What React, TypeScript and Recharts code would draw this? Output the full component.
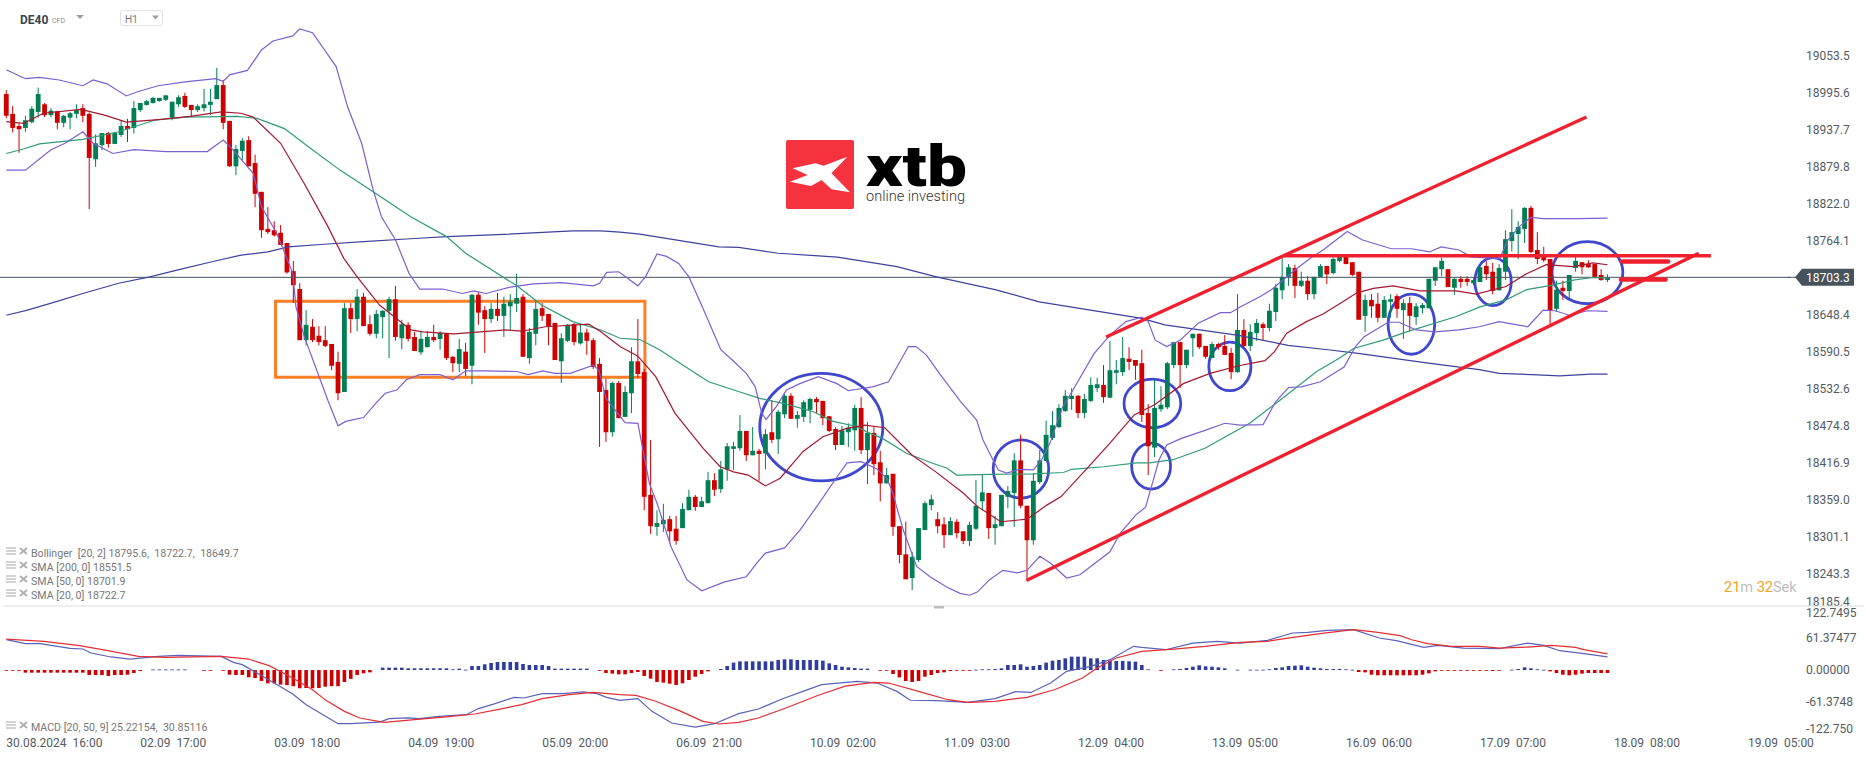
import {
  Bar,
  ComposedChart,
  Line,
  ReferenceArea,
  ReferenceLine,
  XAxis,
  YAxis,
} from "recharts";

const FONT = "Roboto, sans-serif";
const GREEN = "#007f54";
const RED = "#d10000";
const TEXT = "#555b61";

// hourly DE40 candles, one position per candle
const opens = [
  18990, 18959, 18940, 18937, 18946, 18962, 18974, 18957, 18963, 18945,
  18953, 18959, 18968, 18959, 18888, 18910, 18929, 18912, 18926, 18940,
  18937, 18965, 18973, 18976, 18979, 18981, 18953, 18974, 18987, 18973,
  18965, 18968, 18973, 18982, 19004, 18948, 18877, 18901, 18918, 18882,
  18837, 18779, 18777, 18773, 18757, 18713, 18685, 18605, 18626, 18612,
  18605, 18599, 18571, 18524, 18655, 18638, 18673, 18630, 18615, 18641,
  18651, 18669, 18608, 18629, 18610, 18586, 18594, 18610, 18607, 18615,
  18579, 18568, 18587, 18565, 18676, 18652, 18638, 18654, 18643, 18658,
  18662, 18673, 18577, 18615, 18655, 18646, 18632, 18572, 18604, 18630,
  18600, 18617, 18605, 18568, 18527, 18461, 18538, 18485, 18522, 18572,
  18555, 18363, 18313, 18317, 18325, 18310, 18311, 18339, 18360, 18344,
  18350, 18386, 18372, 18403, 18435, 18436, 18463, 18425, 18432, 18428,
  18461, 18450, 18489, 18518, 18482, 18485, 18496, 18513, 18510, 18486,
  18466, 18441, 18461, 18464, 18499, 18433, 18460, 18414, 18381, 18396,
  18314, 18270, 18233, 18261, 18308, 18347, 18325, 18317, 18300, 18321,
  18306, 18291, 18310, 18353, 18366, 18311, 18314, 18360, 18366, 18417,
  18346, 18292, 18383, 18416, 18452, 18469, 18494, 18513, 18518, 18491,
  18510, 18530, 18535, 18515, 18554, 18555, 18576, 18574, 18569, 18491,
  18437, 18497, 18500, 18566, 18602, 18566, 18608, 18615, 18596, 18577,
  18599, 18596, 18585, 18555, 18621, 18596, 18616, 18630, 18624, 18649,
  18683, 18704, 18718, 18690, 18698, 18677, 18704, 18721, 18710, 18729,
  18737, 18727, 18712, 18643, 18668, 18662, 18640, 18665, 18674, 18652,
  18663, 18641, 18655, 18655, 18698, 18716, 18716, 18687, 18701, 18701,
  18694, 18696, 18721, 18712, 18683, 18712, 18760, 18771, 18779, 18812,
  18746, 18737, 18732, 18654, 18687, 18682, 18718, 18727, 18724, 18724,
  18707, 18699,
];
const highs = [
  18996, 18971, 18944, 18956, 18971, 19000, 18976, 18968, 18964, 18957,
  18962, 18974, 18974, 18961, 18927, 18929, 18931, 18930, 18949, 18951,
  18979, 18976, 18981, 18985, 18984, 18988, 18978, 18988, 18992, 18973,
  18974, 18998, 18998, 19031, 19012, 18948, 18910, 18921, 18924, 18895,
  18837, 18813, 18791, 18785, 18757, 18729, 18694, 18652, 18638, 18627,
  18627, 18599, 18587, 18663, 18663, 18685, 18679, 18644, 18652, 18652,
  18673, 18690, 18637, 18633, 18618, 18618, 18619, 18629, 18619, 18616,
  18580, 18607, 18601, 18677, 18680, 18658, 18663, 18679, 18673, 18677,
  18709, 18677, 18624, 18668, 18663, 18646, 18632, 18616, 18630, 18632,
  18630, 18623, 18608, 18577, 18545, 18540, 18541, 18533, 18594, 18638,
  18560, 18449, 18339, 18349, 18330, 18330, 18350, 18371, 18363, 18360,
  18399, 18397, 18416, 18444, 18446, 18488, 18463, 18469, 18435, 18466,
  18511, 18496, 18521, 18522, 18494, 18511, 18515, 18516, 18510, 18486,
  18469, 18471, 18475, 18504, 18516, 18477, 18469, 18432, 18405, 18396,
  18314, 18321, 18274, 18311, 18353, 18363, 18336, 18328, 18328, 18325,
  18306, 18321, 18386, 18394, 18366, 18330, 18363, 18377, 18428, 18457,
  18346, 18397, 18433, 18479, 18494, 18505, 18527, 18530, 18519, 18521,
  18547, 18546, 18566, 18604, 18574, 18610, 18594, 18574, 18590, 18505,
  18543, 18533, 18571, 18602, 18602, 18590, 18615, 18615, 18596, 18602,
  18601, 18613, 18593, 18677, 18638, 18630, 18638, 18633, 18662, 18693,
  18737, 18724, 18723, 18712, 18705, 18704, 18724, 18721, 18734, 18737,
  18737, 18727, 18712, 18676, 18677, 18679, 18674, 18677, 18677, 18669,
  18673, 18663, 18663, 18701, 18719, 18734, 18716, 18702, 18705, 18705,
  18702, 18723, 18729, 18726, 18724, 18777, 18810, 18791, 18813, 18815,
  18774, 18751, 18732, 18698, 18698, 18707, 18735, 18727, 18730, 18724,
  18716, 18708,
];
const lows = [
  18952, 18930, 18898, 18931, 18944, 18953, 18954, 18954, 18935, 18938,
  18935, 18952, 18946, 18810, 18876, 18902, 18906, 18912, 18923, 18915,
  18928, 18962, 18972, 18975, 18978, 18979, 18949, 18970, 18968, 18955,
  18962, 18963, 18957, 18982, 18935, 18876, 18863, 18887, 18877, 18813,
  18765, 18771, 18767, 18754, 18709, 18663, 18605, 18597, 18602, 18597,
  18594, 18558, 18511, 18524, 18616, 18619, 18627, 18612, 18608, 18608,
  18577, 18604, 18591, 18603, 18588, 18582, 18594, 18602, 18590, 18574,
  18555, 18555, 18549, 18536, 18629, 18585, 18632, 18635, 18610, 18621,
  18649, 18579, 18568, 18597, 18635, 18597, 18574, 18538, 18602, 18597,
  18598, 18582, 18560, 18438, 18446, 18454, 18483, 18485, 18491, 18546,
  18339, 18302, 18299, 18305, 18288, 18285, 18311, 18339, 18338, 18344,
  18350, 18361, 18366, 18385, 18402, 18432, 18416, 18425, 18385, 18403,
  18444, 18427, 18483, 18482, 18468, 18477, 18475, 18491, 18472, 18461,
  18433, 18441, 18438, 18432, 18427, 18380, 18394, 18353, 18381, 18299,
  18256, 18231, 18214, 18258, 18308, 18339, 18303, 18280, 18300, 18295,
  18286, 18283, 18308, 18339, 18294, 18285, 18314, 18342, 18313, 18342,
  18230, 18285, 18380, 18416, 18449, 18468, 18493, 18496, 18483, 18483,
  18508, 18524, 18507, 18515, 18536, 18549, 18558, 18543, 18477, 18394,
  18422, 18493, 18497, 18561, 18530, 18561, 18579, 18591, 18576, 18577,
  18590, 18582, 18544, 18554, 18594, 18588, 18604, 18604, 18619, 18635,
  18669, 18690, 18671, 18688, 18668, 18669, 18704, 18693, 18708, 18727,
  18724, 18705, 18637, 18618, 18640, 18633, 18640, 18640, 18640, 18607,
  18619, 18629, 18647, 18655, 18690, 18705, 18688, 18676, 18687, 18690,
  18691, 18696, 18699, 18677, 18683, 18699, 18744, 18732, 18757, 18741,
  18724, 18727, 18630, 18649, 18668, 18669, 18712, 18708, 18718, 18702,
  18698, 18696,
];
const closes = [
  18956, 18937, 18935, 18949, 18967, 18990, 18957, 18964, 18945, 18956,
  18960, 18965, 18956, 18890, 18913, 18929, 18912, 18929, 18940, 18935,
  18968, 18976, 18979, 18984, 18984, 18988, 18978, 18985, 18970, 18965,
  18971, 18974, 18978, 19004, 18945, 18877, 18904, 18917, 18877, 18834,
  18777, 18774, 18769, 18754, 18711, 18691, 18605, 18629, 18605, 18602,
  18596, 18565, 18522, 18655, 18638, 18673, 18627, 18615, 18646, 18651,
  18669, 18610, 18630, 18607, 18588, 18607, 18610, 18605, 18616, 18577,
  18569, 18591, 18560, 18676, 18648, 18638, 18654, 18643, 18662, 18665,
  18671, 18579, 18618, 18654, 18643, 18627, 18574, 18608, 18629, 18602,
  18617, 18604, 18563, 18524, 18461, 18538, 18483, 18524, 18572, 18552,
  18360, 18314, 18319, 18324, 18306, 18291, 18341, 18360, 18344, 18353,
  18386, 18371, 18403, 18439, 18439, 18463, 18425, 18432, 18427, 18458,
  18449, 18493, 18518, 18482, 18488, 18508, 18513, 18508, 18483, 18463,
  18441, 18464, 18468, 18499, 18433, 18460, 18411, 18381, 18394, 18313,
  18269, 18231, 18266, 18311, 18350, 18356, 18314, 18300, 18322, 18303,
  18291, 18316, 18346, 18367, 18311, 18317, 18363, 18369, 18417, 18346,
  18292, 18385, 18417, 18457, 18472, 18499, 18518, 18518, 18491, 18513,
  18535, 18536, 18516, 18558, 18558, 18577, 18571, 18565, 18488, 18439,
  18499, 18504, 18569, 18602, 18566, 18590, 18615, 18594, 18579, 18599,
  18594, 18582, 18555, 18621, 18596, 18618, 18632, 18624, 18651, 18687,
  18704, 18719, 18690, 18698, 18677, 18704, 18721, 18708, 18732, 18735,
  18724, 18707, 18637, 18668, 18658, 18640, 18668, 18669, 18654, 18663,
  18643, 18658, 18660, 18701, 18719, 18729, 18688, 18701, 18696, 18696,
  18699, 18719, 18708, 18682, 18718, 18763, 18774, 18782, 18812, 18743,
  18732, 18730, 18652, 18684, 18682, 18707, 18729, 18719, 18719, 18704,
  18699, 18703,
];
const macdHist = [
  -0.6, -1.3, -0.6, -5.1, -5.1, -5.1, -5.1, -5.1, -5.1, -5.1,
  -5.1, -5.1, -5.1, -9.6, -9.6, -9.6, -11.5, -9.6, -9.6, -9,
  -5.8, -1.9, 0, 1, 1, 1, 1, 1, 1, 0,
  0, -1.3, -1.3, 0, -1.3, -9, -9.6, -9.6, -14, -15.4,
  -21, -25.6, -25.6, -28, -29, -31, -35, -34.5, -35, -34.5,
  -32, -31, -31, -23, -17, -9.6, -6.4, -4.5, 0, 4.5,
  4.5, 4.5, 4.5, 3.2, 3.2, 3.2, 3.2, 3.2, 3.2, 3.2,
  1.3, 2.6, 0.6, 7.7, 7.7, 10.9, 13.4, 15.4, 15.4, 15.4,
  15.4, 11.5, 9.6, 9.6, 9.6, 7.7, 2.6, 2.6, 2.6, 2.6,
  2.6, 2.6, 0, -1.3, -5.8, -7, -8.3, -8.3, -5.8, -3.8,
  -11.5, -16.6, -23, -24.3, -26.2, -28.8, -25.6, -19.2, -12.8, -7.7,
  -2.6, 0, 1.9, 7.7, 14.1, 16.6, 16.6, 16.6, 16.6, 16.6,
  16.6, 19.2, 20.5, 20.5, 19.2, 19.2, 19.2, 19.2, 17.9, 12.8,
  9.6, 6.4, 5.1, 3.8, 2.6, 2.6, 0, -0.6, -1.3, -7.7,
  -14.1, -21.1, -23, -21.1, -12.8, -9.6, -5.8, -4.5, -1.9, -1.3,
  -0.6, -0.6, 0.6, 1.3, 1.3, 1.9, 3.2, 9.6, 9.6, 10.9,
  6.4, 7.7, 9.6, 14.1, 17.9, 19.2, 22.4, 25.6, 25.6, 25.6,
  22.4, 22.4, 19.2, 17.9, 17.3, 17.3, 16.6, 16, 9.6, 1.3,
  0, -1.3, 0, 1.3, 1.9, 3.8, 6.4, 9, 7, 6.4,
  5.1, 3.2, 0, 0.6, 0, 0.6, 0.6, 0.6, 1.3, 3.8,
  5.1, 7.7, 8.3, 9, 6.4, 4.5, 3.2, 1.9, 1.9, 1.9,
  1.3, 0.6, -3.8, -4.5, -9, -10.2, -10.2, -10.2, -10.2, -10.2,
  -10.2, -10.2, -9, -6.4, -2.6, -1.3, -1.3, -1.3, -1.3, -1.3,
  -1.3, -1.3, -1.3, -1.9, -1.3, 0, 0.6, 1.9, 5.1, 3.2,
  1.3, 0.6, -2.6, -5.8, -9, -10.2, -9, -7, -5.8, -5.8,
  -5.8, -5.8,
];

// indicator lines read as [candle position, value]
type Pt = [number, number];
const bbUpper: Pt[] = [
  [0, 19028], [3, 19014], [5.2, 19016], [8.3, 19012], [12, 19003], [13.6, 19012], [15.8, 19006], [18.8, 18987],
  [20.7, 18994], [23.8, 19003], [28, 19009], [32.8, 19014], [34, 19010], [35, 19020], [37.8, 19027], [40, 19059],
  [41.8, 19073], [44.9, 19081], [46, 19092], [48, 19086], [51.7, 19033], [53.5, 18970], [55.7, 18913], [57.5, 18840],
  [58.8, 18798], [61, 18762], [63.1, 18710], [64.8, 18685], [68.4, 18685], [71.5, 18678], [73.3, 18682], [75.2, 18678],
  [79, 18688], [82.6, 18693], [87, 18695], [92, 18690], [93, 18694], [94.1, 18711], [96, 18712], [99, 18690],
  [100.2, 18704], [102, 18740], [103.5, 18736], [105.4, 18725], [107, 18704], [109.2, 18655], [112, 18590], [113.8, 18574],
  [116, 18553], [117.4, 18532], [118.4, 18491], [119.1, 18481], [120.7, 18501], [122.3, 18527], [124.4, 18537], [127.3, 18548],
  [130.2, 18537], [132, 18526], [133.9, 18529], [135.8, 18532], [138.3, 18540], [141.4, 18595], [142.6, 18595], [144.2, 18582],
  [146.4, 18551], [149.5, 18510], [152.1, 18480], [153.1, 18449], [154.4, 18423], [155.5, 18402], [156.8, 18397], [158.9, 18403],
  [161, 18402], [162.3, 18418], [163.6, 18444], [165.6, 18501], [167.2, 18527], [170.5, 18584], [173, 18613], [175.5, 18634],
  [178, 18641], [179, 18634], [180.1, 18605], [181.9, 18595], [184, 18605], [186.9, 18632], [190.3, 18648], [191.9, 18648],
  [193.4, 18657], [196.5, 18673], [198.3, 18684], [202.3, 18717], [204.4, 18733], [206.4, 18746], [208.5, 18762], [210.2, 18775],
  [212.5, 18762], [217.1, 18748], [220.3, 18748], [223.1, 18743], [224.9, 18751], [227.7, 18746], [229.7, 18735], [234.1, 18733],
  [235.4, 18762], [237.2, 18783], [239, 18797], [240.9, 18795], [246.5, 18795], [251, 18796],
];
const bbLower: Pt[] = [
  [0, 18871], [3, 18871], [7, 18903], [9.2, 18913], [12, 18931], [13.6, 18913], [16.7, 18897], [20, 18903],
  [25, 18900], [31.5, 18900], [34, 18918], [35.5, 18903], [38.7, 18866], [40, 18814], [42.4, 18772], [44.9, 18710],
  [45.4, 18657], [46.7, 18611], [50.4, 18511], [52, 18471], [53.2, 18478], [56, 18484], [57.9, 18506], [59.4, 18522],
  [61.2, 18527], [62.7, 18543], [64.8, 18551], [68, 18551], [70, 18543], [72, 18557], [75, 18557], [80, 18556],
  [81.8, 18551], [84.1, 18557], [86, 18553], [88.4, 18553], [92, 18566], [92.9, 18558], [94, 18514], [97, 18476],
  [99, 18475], [100.8, 18381], [102, 18350], [104.2, 18282], [106.7, 18230], [109, 18213], [112.6, 18227], [116, 18235],
  [117.6, 18256], [119, 18272], [122, 18280], [124.4, 18308], [127.2, 18347], [130.2, 18391], [131.8, 18413], [134, 18415],
  [136.4, 18404], [138, 18389], [138.8, 18371], [140.6, 18308], [142.7, 18251], [144.8, 18235], [147.4, 18219], [149.5, 18209],
  [151, 18206], [152.2, 18211], [154.1, 18230], [156.2, 18245], [158.5, 18241], [160, 18245], [162, 18267], [163.7, 18256],
  [166.2, 18233], [168.3, 18238], [173, 18274], [174.6, 18303], [177, 18331], [178.6, 18344], [179.5, 18376], [180.7, 18418],
  [181.9, 18441], [184.1, 18451], [187.9, 18464], [191, 18475], [193.4, 18472], [197, 18473], [199, 18509], [201, 18531],
  [203, 18532], [206, 18540], [209.7, 18563], [211.5, 18595], [212.8, 18610], [216.6, 18633], [218.3, 18633], [221, 18621],
  [224, 18618], [227.7, 18621], [230.9, 18626], [234, 18634], [238.5, 18626], [240.9, 18652], [242.8, 18651], [245, 18644],
  [247.9, 18651], [251, 18650],
];
const sma20: Pt[] = [
  [0, 18947], [2.7, 18944], [5.8, 18960], [11.7, 18966], [15.4, 18957], [18.8, 18946], [23.8, 18950], [28.8, 18955],
  [33.7, 18962], [36.8, 18960], [38.7, 18954], [43, 18913], [46.7, 18850], [50.4, 18783], [52.9, 18733], [55, 18704],
  [58.5, 18660], [63.4, 18621], [65.3, 18618], [70.2, 18615], [78.3, 18621], [80.8, 18619], [84.5, 18626], [91.3, 18630],
  [93.2, 18618], [96.2, 18595], [99, 18580], [101.8, 18548], [104.8, 18491], [109.2, 18436], [111.9, 18407], [114, 18399],
  [116.3, 18394], [119, 18377], [121.3, 18389], [124.9, 18431], [128, 18454], [131.7, 18467], [134.6, 18472], [137.7, 18468],
  [142, 18425], [145.7, 18399], [150, 18366], [152.2, 18345], [155.9, 18321], [160, 18325], [163.1, 18347], [165.3, 18360],
  [169.2, 18402], [173, 18444], [176.8, 18488], [180, 18504], [184.5, 18537], [188.7, 18553], [193.2, 18565], [197.3, 18573],
  [198.8, 18587], [200.7, 18616], [203.8, 18634], [206.4, 18646], [209, 18662], [211.7, 18679], [214.3, 18686], [217.4, 18690],
  [221.6, 18682], [227.3, 18682], [230.4, 18677], [235.1, 18689], [238.3, 18709], [241.4, 18723], [245.6, 18720], [248.7, 18726],
  [251, 18723],
];
const sma50: Pt[] = [
  [0, 18897], [2.7, 18904], [5.2, 18912], [12, 18919], [17.6, 18931], [23.2, 18949], [28.2, 18954], [36.2, 18955],
  [39.3, 18952], [43.6, 18936], [47.3, 18908], [52.3, 18871], [57.5, 18837], [63.4, 18798], [69, 18767], [72, 18741],
  [80.2, 18689], [83.9, 18660], [88.8, 18634], [93.2, 18621], [96.2, 18608], [99.3, 18606], [102.4, 18590], [106.4, 18564],
  [110.1, 18540], [115, 18524], [118.1, 18514], [122.3, 18505], [126.5, 18493], [129.6, 18478], [133.3, 18470], [134.8, 18462],
  [137.4, 18451], [141.1, 18428], [145.3, 18412], [147.4, 18405], [149, 18394], [154.2, 18395], [161, 18396], [165.7, 18398],
  [167, 18403], [172, 18407], [177.2, 18413], [179.2, 18413], [182.9, 18418], [187.9, 18436], [190.2, 18449], [194.9, 18475],
  [199, 18506], [205.4, 18556], [209, 18577], [211.2, 18592], [215.8, 18605], [219.5, 18618], [227.3, 18642], [231, 18657],
  [235.1, 18668], [238.3, 18684], [242.4, 18691], [245.6, 18699], [248.7, 18703], [251, 18702],
];
const sma200: Pt[] = [
  [0, 18644], [3.3, 18652], [7.7, 18665], [12, 18678], [17.6, 18694], [22.5, 18704], [26.9, 18715], [32.4, 18728],
  [36.8, 18738], [41, 18743], [44.2, 18751], [49.8, 18755], [56, 18759], [64, 18764], [69, 18767], [77, 18770],
  [88.8, 18776], [93.2, 18776], [96.2, 18774], [99.3, 18771], [111.7, 18751], [114.8, 18750], [121, 18741], [130.3, 18735],
  [139.6, 18720], [145.8, 18704], [155, 18684], [161.9, 18665], [178, 18639], [181.6, 18629], [193.4, 18612], [200.9, 18597],
  [207.2, 18590], [212.2, 18584], [222.9, 18569], [230.9, 18559], [234, 18553], [239.1, 18551], [243.5, 18549], [248.5, 18552],
  [251, 18552],
];
const macdLine: Pt[] = [
  [0, 58.2], [3, 50.5], [5.3, 50.5], [10, 41.5], [12, 40.3], [13.3, 32.6], [16.4, 25], [19.4, 21],
  [23.8, 26.2], [26.9, 28], [33.7, 26.2], [35.6, 14.7], [37, 10.2], [39.3, -5.8], [42.4, -28], [44.9, -46],
  [47, -66.5], [52, -103], [54, -103], [58.5, -99.8], [60, -93.4], [62.9, -92], [64.7, -93.4], [67.8, -89],
  [72.1, -85.7], [74, -74], [76.5, -65], [79.6, -52.5], [81.1, -53.7], [84, -45.4], [87.3, -45.4], [90.4, -42],
  [92.6, -45.4], [94.1, -52.5], [96.2, -58.2], [99, -55], [101.2, -79.3], [104.3, -101.7], [108, -109.4], [111, -103],
  [114.8, -83.8], [117.9, -74.8], [121.6, -55.7], [125.3, -39], [127.8, -28], [133.4, -21.8], [136.5, -25], [139.6, -41],
  [141.7, -58], [145.8, -58.9], [150.7, -62], [155, -55], [158.2, -41.6], [160.6, -43], [163.7, -25], [166.2, -2.6],
  [170, 7], [173, 19.8], [176.7, 45.4], [178, 43.4], [181.7, 38.9], [186, 51.7], [189.8, 55], [193.4, 51.7],
  [197.7, 56.9], [201.6, 71], [204, 72.2], [207.1, 76], [211.2, 77.3], [215.2, 61.3], [217.9, 56.2], [222.2, 43.4],
  [224.5, 47.3], [228.4, 42], [234.1, 40.9], [238.5, 51.7], [241, 47.3], [243.5, 37], [247.3, 31.3], [251, 25.2],
];
const signalLine: Pt[] = [
  [0, 59.4], [5.9, 55], [11.5, 46.6], [15.7, 37.7], [20.7, 26.2], [25, 24.3], [33.7, 26.2], [38, 21],
  [41.2, 8.3], [44.9, -15.4], [48, -37.8], [50.1, -58.2], [53, -79.3], [55.4, -92], [59.2, -100.4], [64, -95.3],
  [69, -90], [73.4, -84.4], [77, -76], [80.8, -66.5], [84, -55], [88.2, -47.3], [92, -42.9], [96.2, -47.3],
  [98.7, -48.6], [101.8, -60], [105.5, -78], [109.2, -98.5], [111.7, -103.6], [114.8, -100.4], [117.9, -92], [122.2, -73],
  [127.2, -49], [131.5, -31], [135.9, -23.7], [138.3, -25], [143.3, -42], [147.6, -57], [150.7, -62], [155, -60],
  [160, -52.5], [164.3, -37.8], [168.7, -15.4], [171, 3.8], [174, 23], [178, 35.8], [183, 40.2], [187.9, 45.4],
  [193.4, 53], [197.7, 55], [200.9, 61.3], [205.9, 69.6], [211.2, 77.3], [214.7, 72.8], [218.5, 65.8], [220.3, 58],
  [222.8, 50.5], [226.5, 45.4], [231, 45.4], [234.1, 42], [238.5, 44], [242.2, 47.3], [246, 43.4], [247.3, 39],
  [251, 30.9],
];

const priceTicks = [
  19053.5, 18995.6, 18937.7, 18879.8, 18822.0, 18764.1, 18648.4, 18590.5, 18532.6, 18474.8, 18416.9, 18359.0, 18301.1,
  18243.3, 18185.4,
];
const lastPrice = 18703.3;
const macdTicks = [122.7495, 61.37477, 0, -61.3748, -122.75];
const macdTickLabels = ["122.7495", "61.37477", "0.00000", "-61.3748", "-122.750"];
const dateTicks = [0, 21, 42, 63, 84, 105, 126, 147, 168, 189, 210, 231, 252, 273];
const dateLabels = [
  "30.08.2024  16:00", "02.09  17:00", "03.09  18:00", "04.09  19:00", "05.09  20:00", "06.09  21:00", "10.09  02:00",
  "11.09  03:00", "12.09  04:00", "13.09  05:00", "16.09  06:00", "17.09  07:00", "18.09  08:00", "19.09  05:00",
];
const legendRows = [
  "Bollinger  [20, 2] 18795.6,  18722.7,  18649.7",
  "SMA [200, 0] 18551.5",
  "SMA [50, 0] 18701.9",
  "SMA [20, 0] 18722.7",
];

// hand drawn analysis on the price pane: [x1, price1, x2, price2]
const trendLines = [
  [172.4, 18610, 247.7, 18954],
  [159.9, 18229, 265.3, 18741],
  [200.2, 18737, 267.2, 18737],
];
const shortLevels = [
  [253.3, 18728, 260.5, 18728],
  [253.1, 18700, 260.1, 18700],
];
const circles = [
  [118.1, 137.4, 18553, 18385],
  [154.7, 163.4, 18449, 18358],
  [175.2, 184.1, 18544, 18468],
  [176.4, 182.5, 18444, 18372],
  [188.5, 195.1, 18602, 18526],
  [216.6, 223.9, 18677, 18583],
  [230.2, 235.9, 18734, 18659],
  [242.3, 253.4, 18759, 18662],
];

const candles = opens.map((open, i) => ({
  i,
  open,
  high: highs[i],
  low: lows[i],
  close: closes[i],
  hist: macdHist[i],
}));

const toPts = (pts: Pt[]) => pts.map(([i, v]) => ({ i, v }));

const X_DOMAIN: [number, number] = [-0.99, 279.6];

function Candle(props: any) {
  const { x, y, width, height, payload } = props;
  const { open, high, low, close } = payload;
  const top = Math.min(y, y + height);
  const pxPerUnit = Math.abs(height) / (high - low);
  const cx = x + width / 2;
  const bodyTop = top + (high - Math.max(open, close)) * pxPerUnit;
  const bodyH = Math.max(Math.abs(open - close) * pxPerUnit, 1);
  const color = close >= open ? GREEN : RED;
  return (
    <g>
      <line x1={cx} x2={cx} y1={top} y2={top + Math.abs(height)} stroke={color} strokeWidth={1} />
      <rect x={cx - 2.4} y={bodyTop} width={4.8} height={bodyH} fill={color} />
    </g>
  );
}

// keeps its width whatever gap recharts derives from the line points
function HistBar(props: any) {
  const { x, y, width, height, payload } = props;
  if (!payload.hist) return <g />;
  const top = Math.min(y, y + height);
  return (
    <rect
      x={x + width / 2 - 1.8}
      y={top}
      width={3.6}
      height={Math.max(Math.abs(height), 0.8)}
      fill={payload.hist > 0 ? "#2f3da0" : RED}
    />
  );
}

function Ellipse(props: any) {
  const { x, y, width, height } = props;
  return (
    <ellipse
      cx={x + width / 2}
      cy={y + height / 2}
      rx={width / 2}
      ry={height / 2}
      fill="none"
      stroke="#3f48cc"
      strokeWidth={2.8}
    />
  );
}

function PriceTick(props: any) {
  const { y, payload } = props;
  if (payload.value === lastPrice) {
    return (
      <g>
        <line x1={1788} x2={1796} y1={y} y2={y} stroke="#46535d" />
        <polygon points={`1795,${y} 1802,${y - 8.5} 1854,${y - 8.5} 1854,${y + 8.5} 1802,${y + 8.5}`} fill="#46535d" />
        <text x={1806} y={y + 4.5} fontSize={12} fontFamily={FONT} fill="#fff">
          {payload.value.toFixed(1)}
        </text>
      </g>
    );
  }
  const ty = Math.min(y + 2.3, 602);
  return (
    <text x={1806} y={ty + 4.3} fontSize={12} fontFamily={FONT} fill={TEXT}>
      {payload.value.toFixed(1)}
    </text>
  );
}

const macdLabelY = [613, 638, 670, 702, 729];

function MacdTick(props: any) {
  const { index } = props;
  return (
    <text x={1806} y={macdLabelY[index] - 606 + 4.3} fontSize={12} fontFamily={FONT} fill={TEXT}>
      {macdTickLabels[index]}
    </text>
  );
}

function DateTick(props: any) {
  const { x, index } = props;
  return (
    <text x={x} y={141} fontSize={12} fontFamily={FONT} fill={TEXT} style={{ whiteSpace: "pre" }}>
      {dateLabels[index]}
    </text>
  );
}

function LegendIcons({ y }: { y: number }) {
  return (
    <g>
      <g stroke="#b5b5b5" strokeWidth={1.2}>
        <line x1={6} x2={16} y1={y - 5} y2={y - 5} />
        <line x1={6} x2={16} y1={y - 2} y2={y - 2} />
        <line x1={6} x2={16} y1={y + 1} y2={y + 1} />
      </g>
      <g stroke="#b0b0b0" strokeWidth={2}>
        <line x1={20} x2={27} y1={y - 5} y2={y + 1} />
        <line x1={27} x2={20} y1={y - 5} y2={y + 1} />
      </g>
    </g>
  );
}

function Overlay() {
  return (
    <svg width={1866} height={759} style={{ position: "absolute", left: 0, top: 0, pointerEvents: "none" }}>
      <text x={20} y={24} fontSize={12} fontWeight={700} fontFamily={FONT} fill="#3a4650">DE40</text>
      <text x={52} y={23} fontSize={7} fontFamily={FONT} fill="#8a8f94">CFD</text>
      <polygon points="76,15 84,15 80,19" fill="#9a9fa4" />
      <rect x={120.5} y={10.5} width={42} height={15} rx={2} fill="#fff" stroke="#e2e2e2" />
      <text x={125} y={23} fontSize={10} fontFamily={FONT} fill="#777">H1</text>
      <polygon points="152,15.5 159,15.5 155.5,19.5" fill="#9a9fa4" />

      <rect x={786} y={140} width={68} height={69} rx={2} fill="#f7323f" />
      <polygon
        points="847.3,156.7 831.5,173.3 850,192.3 831.5,189.3 821.6,180 811,186 790,181.7 807.7,175 792.7,168.3 815.6,163.3 823.6,165.7"
        fill="#fff"
      />
      <text x={866} y={186} fontSize={58} fontWeight={900} fontFamily={FONT} fill="#000" textLength={101} lengthAdjust="spacingAndGlyphs">
        xtb
      </text>
      <text x={866} y={201} fontSize={14} fontWeight={300} fontFamily={FONT} fill="#333" textLength={99} lengthAdjust="spacingAndGlyphs">
        online investing
      </text>

      {legendRows.map((row, k) => (
        <g key={row}>
          <LegendIcons y={553 + k * 14} />
          <text x={31} y={556.5 + k * 14} fontSize={10.6} fontFamily={FONT} fill="#777" style={{ whiteSpace: "pre" }}>
            {row}
          </text>
        </g>
      ))}
      <LegendIcons y={727} />
      <text x={31} y={731} fontSize={10.6} fontFamily={FONT} fill="#777" style={{ whiteSpace: "pre" }}>
        {"MACD [20, 50, 9] 25.22154,  30.85116"}
      </text>

      <text x={1724} y={591.5} fontSize={14.5} fontFamily={FONT} fill="#bdbdbd" style={{ whiteSpace: "pre" }}>
        <tspan fill="#f7a21b">21</tspan>
        <tspan>m </tspan>
        <tspan fill="#f7a21b">32</tspan>
        <tspan>Sek</tspan>
      </text>

      <line x1={3} x2={1864} y1={606} y2={606} stroke="#dcdcdc" />
      <rect x={934} y={606} width={10} height={2.5} fill="#bdbdbd" />
    </svg>
  );
}

export default function App() {
  return (
    <div style={{ position: "absolute", left: 0, top: 0, width: 1866, height: 759, background: "#fff", overflow: "hidden" }}>
      <div style={{ position: "absolute", left: 0, top: 0 }}>
        <ComposedChart width={1866} height={612} data={candles} margin={{ top: 0, right: 0, bottom: 0, left: 0 }}>
          <XAxis dataKey="i" type="number" domain={X_DOMAIN} hide allowDataOverflow />
          <YAxis
            orientation="right"
            width={76}
            type="number"
            domain={[18179.8, 19137.1]}
            ticks={[...priceTicks, lastPrice]}
            interval={0}
            axisLine={false}
            tickLine={false}
            tick={PriceTick}
            allowDataOverflow
          />
          <ReferenceLine y={lastPrice} stroke="#46535d" strokeWidth={1} />
          <Bar
            dataKey={(d: any) => [d.low, d.high]}
            barSize={5}
            shape={Candle}
            isAnimationActive={false}
          />
          <Line data={toPts(sma200)} dataKey="v" stroke="#3d429c" strokeWidth={1.2} dot={false} activeDot={false} isAnimationActive={false} />
          <Line data={toPts(sma50)} dataKey="v" stroke="#2f9c78" strokeWidth={1.2} dot={false} activeDot={false} isAnimationActive={false} />
          <Line data={toPts(sma20)} dataKey="v" stroke="#a5182f" strokeWidth={1.2} dot={false} activeDot={false} isAnimationActive={false} />
          <Line data={toPts(bbUpper)} dataKey="v" stroke="#7d5fd0" strokeWidth={1.2} dot={false} activeDot={false} isAnimationActive={false} />
          <Line data={toPts(bbLower)} dataKey="v" stroke="#7d5fd0" strokeWidth={1.2} dot={false} activeDot={false} isAnimationActive={false} />
          <ReferenceArea
            x1={42.2}
            x2={100.1}
            y1={18546.9}
            y2={18665.8}
            fill="none"
            stroke="#ff7f27"
            strokeWidth={3}
            fillOpacity={0}
          />
          {circles.map(([x1, x2, y1, y2], k) => (
            <ReferenceArea key={k} x1={x1} x2={x2} y1={y1} y2={y2} shape={Ellipse} />
          ))}
          {trendLines.map(([x1, y1, x2, y2], k) => (
            <ReferenceLine
              key={k}
              segment={[{ x: x1, y: y1 }, { x: x2, y: y2 }]}
              stroke="#f0202e"
              strokeWidth={3.4}
            />
          ))}
          {shortLevels.map(([x1, y1, x2, y2], k) => (
            <ReferenceLine
              key={k}
              segment={[{ x: x1, y: y1 }, { x: x2, y: y2 }]}
              stroke="#f0202e"
              strokeWidth={4.5}
              strokeLinecap="round"
            />
          ))}
        </ComposedChart>
      </div>
      <div style={{ position: "absolute", left: 0, top: 606 }}>
        <ComposedChart width={1866} height={153} data={candles} margin={{ top: 0, right: 0, bottom: 0, left: 0 }}>
          <XAxis
            dataKey="i"
            type="number"
            domain={X_DOMAIN}
            ticks={dateTicks}
            interval={0}
            height={25}
            axisLine={false}
            tickLine={false}
            tick={DateTick}
            allowDataOverflow
          />
          <YAxis
            orientation="right"
            width={76}
            type="number"
            domain={[-122.75, 122.75]}
            ticks={macdTicks}
            interval={0}
            axisLine={false}
            tickLine={false}
            tick={MacdTick}
            allowDataOverflow
          />
          <Bar dataKey="hist" barSize={4.2} shape={HistBar} isAnimationActive={false} />
          <Line data={toPts(macdLine)} dataKey="v" stroke="#5a62b8" strokeWidth={1.2} dot={false} activeDot={false} isAnimationActive={false} />
          <Line data={toPts(signalLine)} dataKey="v" stroke="#e22f33" strokeWidth={1.2} dot={false} activeDot={false} isAnimationActive={false} />
        </ComposedChart>
      </div>
      <Overlay />
    </div>
  );
}
